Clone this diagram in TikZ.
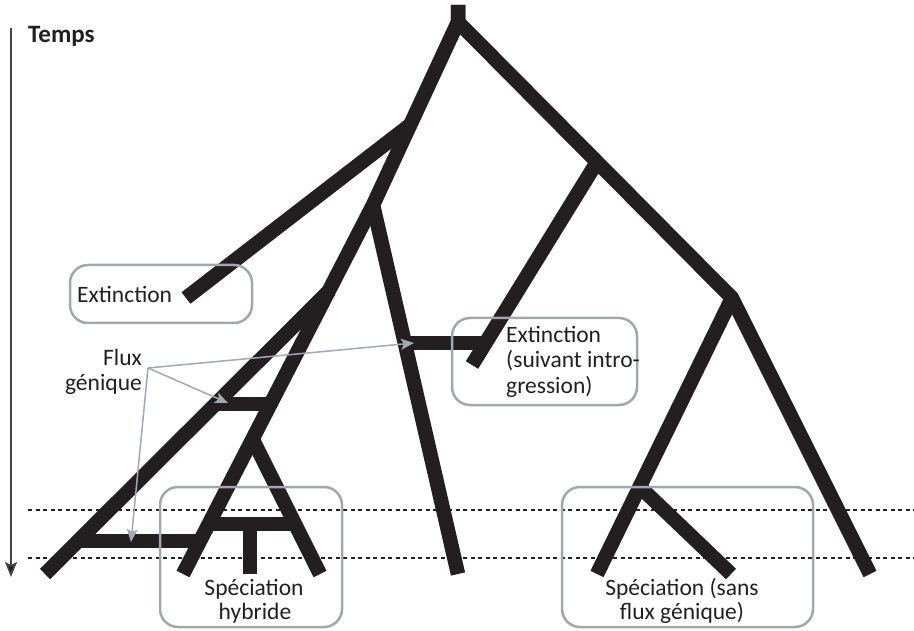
\documentclass[tikz,border=0pt]{standalone}
\usepackage{fontspec}
\setmainfont{Carlito}
\usetikzlibrary{arrows.meta}
\definecolor{treeblack}{HTML}{231F20}
\definecolor{boxgray}{HTML}{A2A6AE}
\definecolor{arrgray}{HTML}{A4A8B0}
\definecolor{axisgray}{HTML}{444444}
\begin{document}
\begin{tikzpicture}[x=1pt,y=-1pt,
  branch/.style={draw=treeblack, line width=14.5pt, line join=miter, line cap=butt},
  box/.style={draw=boxgray, line width=2.5pt, rounded corners=18pt, inner sep=0pt, fill=none},
  flow/.style={draw=arrgray, line width=1.5pt, -{Stealth[length=13pt,width=11pt,inset=3pt]}},
  guide/.style={draw=treeblack, line width=1.3pt, dash pattern=on 4pt off 3.5pt},
  timeaxis/.style={draw=axisgray, line width=1.6pt, -{Stealth[length=15pt,width=12pt,inset=3pt,fill=treeblack]}},
  lbl/.style={font=\fontsize{23.5}{25}\selectfont, text=treeblack, inner sep=0pt}]
\useasboundingbox (0,0) rectangle (914,631);

% ---- named points of the tree ----
\coordinate (top) at (458,5);
\coordinate (root) at (458,22);
\coordinate (lmid) at (373,205);
\coordinate (lend) at (183,574);
\coordinate (extj) at (410,125);
\coordinate (extend) at (186,298);
\coordinate (midend) at (458,574);
\coordinate (diagj) at (330,290);
\coordinate (diagend) at (45,574);
\coordinate (hybj) at (253,440);
\coordinate (hybr) at (320,574);
\coordinate (rcorner) at (732,298);
\coordinate (rend) at (870,574);
\coordinate (rl) at (597,574);
\coordinate (rsubj) at (640,487);
\coordinate (rsubend) at (731,574);
\coordinate (mrj) at (597,162);
\coordinate (mrend) at (472,365);
% bars
\coordinate (barA1) at (404.7,343);
\coordinate (barA2) at (486,343);
\coordinate (barB1) at (217,404);
\coordinate (barB2) at (271,404);
\coordinate (barC1) at (210,524);
\coordinate (barC2) at (295,524);
\coordinate (stubT) at (250,524);
\coordinate (stubB) at (250,574);
\coordinate (barD1) at (81,541);
\coordinate (barD2) at (202,541);

% ---- dashed time lines ----
\coordinate (g1a) at (28,510); \coordinate (g1b) at (914,510);
\coordinate (g2a) at (28,558); \coordinate (g2b) at (914,558);
\draw[guide] (g1a) -- (g1b);
\draw[guide] (g2a) -- (g2b);

% ---- tree ----
\draw[branch] (top) -- (root) -- (rcorner) -- (rend);
\draw[branch] (top) -- (root) -- (lmid) -- (lend);
\draw[branch] (extj) -- (extend);
\draw[branch] (lmid) -- (midend);
\draw[branch] (diagj) -- (diagend);
\draw[branch] (hybj) -- (hybr);
\draw[branch] (rcorner) -- (rl);
\draw[branch] (rsubj) -- (rsubend);
\draw[branch] (mrj) -- (mrend);
\draw[branch] (barA1) -- (barA2);
\draw[branch] (barB1) -- (barB2);
\draw[branch] (barC1) -- (barC2);
\draw[branch] (stubT) -- (stubB);
\draw[branch] (barD1) -- (barD2);

% ---- time axis ----
\coordinate (tTop) at (11,28);
\coordinate (tBot) at (11,577);
\draw[timeaxis] (tTop) -- (tBot);
\node[lbl, anchor=base west, font=\fontsize{25}{26}\selectfont\bfseries] (temps) at (28,43) {Temps};

% ---- boxes ----
\node[box, minimum width=182pt, minimum height=58pt] (boxext) at (161,294) {};
\node[box, minimum width=185pt, minimum height=87pt] (boxintro) at (544.5,361.5) {};
\node[box, minimum width=182pt, minimum height=140pt] (boxhyb) at (251,557) {};
\node[box, minimum width=251pt, minimum height=140pt] (boxsans) at (687.5,557) {};

% ---- labels ----
\node[lbl, anchor=base west] (ext1) at (77,303) {Extinction};
\node[lbl, anchor=base west] (ext2a) at (506,343) {Extinction};
\node[lbl, anchor=base west] (ext2b) at (506,368) {(suivant intro-};
\node[lbl, anchor=base west] (ext2c) at (506,393) {gression)};
\node[lbl, anchor=base] (hyba) at (254,595) {Spéciation};
\node[lbl, anchor=base] (hybb) at (255,619) {hybride};
\node[lbl, anchor=base] (sansa) at (682,595) {Spéciation (sans};
\node[lbl, anchor=base] (sansb) at (682,619) {flux génique)};
\node[lbl, anchor=base east] (fluxa) at (142,366) {Flux};
\node[lbl, anchor=base east] (fluxb) at (142,390) {génique};

% ---- gene flow arrows ----
\coordinate (fsrc) at (148,368);
\coordinate (ftip1) at (414,343);
\coordinate (ftip2) at (228,403);
\coordinate (ftip3) at (131,542);
\draw[flow] (fsrc) -- (ftip1);
\draw[flow] (fsrc) -- (ftip2);
\draw[flow] (fsrc) -- (ftip3);
\end{tikzpicture}
\end{document}
